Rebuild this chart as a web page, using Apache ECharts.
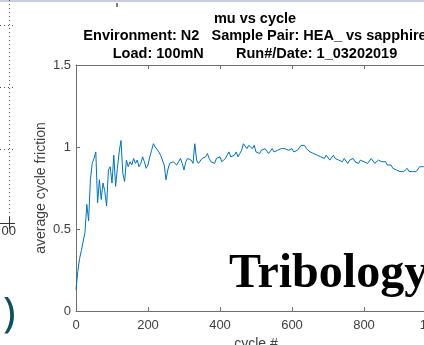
<!DOCTYPE html>
<html>
<head>
<meta charset="utf-8">
<script src="https://cdn.jsdelivr.net/npm/echarts@6/dist/echarts.min.js"></script>
<style>
  html, body { margin: 0; padding: 0; background: #fff; }
  #chart { width: 424px; height: 345px; }
</style>
</head>
<body>
<div id="chart"></div>
<script>
// friction values, one every 5 cycles
const cycleStep = 5;
const friction = [
  0.13, 0.24, 0.32, 0.37, 0.38, 0.48, 0.65, 0.55, 0.80, 0.90,
  0.93, 0.97, 0.66, 0.80, 0.68, 0.78, 0.73, 0.64, 0.86, 0.88,
  0.78, 0.95, 0.76, 0.87, 0.97, 1.04, 0.84, 0.79, 0.92, 0.88,
  0.91, 0.89, 0.93, 0.90, 0.92, 0.88, 0.90, 0.94, 0.91, 0.87,
  0.89, 0.94, 0.98, 1.02, 1.00, 0.99, 0.97, 0.95, 0.92, 0.89,
  0.80, 0.86, 0.90, 0.89, 0.91, 0.90, 0.89, 0.91, 0.93, 0.90,
  0.86, 0.91, 0.93, 0.94, 0.92, 0.90, 1.02, 0.92, 0.90, 0.91,
  0.93, 0.92, 0.94, 0.96, 0.93, 0.91, 0.92, 0.90, 0.93, 0.92,
  0.94, 0.91, 0.92, 0.93, 0.95, 0.97, 0.94, 0.93, 0.95, 0.97,
  0.94, 0.96, 0.98, 1.02, 1.01, 0.99, 1.01, 1.00, 0.99, 1.01,
  0.97, 0.98, 0.96, 0.98, 0.97, 0.99, 0.98, 0.96, 0.97, 0.99,
  0.97, 0.96, 0.98, 0.97, 0.99, 0.98, 0.99, 1.00, 0.98, 0.97,
  0.99, 0.97, 0.96, 0.98, 0.99, 1.01, 1.00, 1.01, 0.99, 0.98,
  0.97, 0.98, 0.96, 0.97, 0.95, 0.96, 0.94, 0.95, 0.93, 0.95,
  0.94, 0.92, 0.93, 0.95, 0.93, 0.94, 0.92, 0.93, 0.91, 0.93,
  0.92, 0.90, 0.92, 0.91, 0.93, 0.91, 0.92, 0.90, 0.92, 0.93,
  0.91, 0.92, 0.90, 0.91, 0.93, 0.92, 0.90, 0.91, 0.92, 0.93,
  0.91, 0.90, 0.91, 0.89, 0.88, 0.89, 0.87, 0.88, 0.86, 0.87,
  0.85, 0.86, 0.85, 0.86, 0.87, 0.85, 0.86, 0.85, 0.86, 0.85,
  0.86, 0.88, 0.87, 0.88, 0.87, 0.88, 0.89, 0.88, 0.87, 0.88,
  0.88
];
const xTicks = [0, 1000, 200];   // min, max, interval
const yTicks = [0, 1.5, 0.5];

const titleLines = [
  'mu vs cycle',
  'Environment: N2   Sample Pair: HEA_ vs sapphire',
  'Load: 100mN        Run#/Date: 1_03202019'
];

const points = friction.map((v, i) => [i * cycleStep, v]);

const axisGray = '#6f6f6f';
const labelGray = '#404040';
const font = 'Liberation Sans, Arial, sans-serif';

const chart = echarts.init(document.getElementById('chart'));

chart.setOption({
  animation: false,
  backgroundColor: '#fff',
  title: {
    text: titleLines.join('\n'),
    left: 250,
    top: 5,
    textAlign: 'center',
    textStyle: {
      fontFamily: font,
      fontSize: 14.5,
      fontWeight: 'bold',
      color: '#000',
      lineHeight: 17.5
    }
  },
  grid: { left: 76, top: 65, width: 360, height: 246, outerBoundsMode: 'none', containLabel: false },
  xAxis: [{
    type: 'value',
    min: xTicks[0], max: xTicks[1], interval: xTicks[2],
    name: 'cycle #',
    nameLocation: 'middle',
    nameGap: 26,
    nameTextStyle: { fontFamily: font, fontSize: 14, color: labelGray },
    axisLine: { lineStyle: { color: axisGray, width: 1 } },
    axisTick: { inside: true, length: 4, lineStyle: { color: axisGray } },
    axisLabel: { fontFamily: font, fontSize: 13, color: labelGray, margin: 8, showMaxLabel: true },
    splitLine: { show: false }
  }, {
    type: 'value',
    position: 'top',
    min: xTicks[0], max: xTicks[1], interval: xTicks[2],
    axisLine: { show: true, lineStyle: { color: axisGray, width: 1 } },
    axisTick: { inside: true, length: 4, lineStyle: { color: axisGray } },
    axisLabel: { show: false },
    splitLine: { show: false }
  }],
  yAxis: {
    type: 'value',
    min: yTicks[0], max: yTicks[1], interval: yTicks[2],
    name: 'average cycle friction',
    nameLocation: 'middle',
    nameGap: 28,
    nameMoveOverlap: false,
    nameTextStyle: { fontFamily: font, fontSize: 14, color: labelGray },
    axisLine: { show: true, lineStyle: { color: axisGray, width: 1 } },
    axisTick: { show: true, inside: true, length: 4, lineStyle: { color: axisGray } },
    axisLabel: { fontFamily: font, fontSize: 13, color: labelGray, margin: 5 },
    splitLine: { show: false }
  },
  series: [{
    type: 'line',
    data: points,
    showSymbol: false,
    lineStyle: { color: '#0072BD', width: 1 },
    itemStyle: { color: '#0072BD' }
  }],
  graphic: [
    // strip at the top of the screenshot
    { type: 'rect', shape: { x: 0, y: 0, width: 424, height: 2 }, style: { fill: '#c9cde0' } },
    { type: 'line', shape: { x1: 117, y1: 3, x2: 117, y2: 7 }, style: { stroke: '#000', lineWidth: 1 } },
    // bits of the neighbouring figure on the left
    { type: 'line', shape: { x1: 9.5, y1: 0, x2: 9.5, y2: 223 }, style: { stroke: '#555', lineWidth: 1, lineDash: [1, 3] } },
    { type: 'line', shape: { x1: 0, y1: 25.5, x2: 16, y2: 25.5 }, style: { stroke: '#555', lineWidth: 1, lineDash: [1, 3] } },
    { type: 'line', shape: { x1: 0, y1: 87.5, x2: 16, y2: 87.5 }, style: { stroke: '#555', lineWidth: 1, lineDash: [1, 3] } },
    { type: 'line', shape: { x1: 0, y1: 149.5, x2: 16, y2: 149.5 }, style: { stroke: '#555', lineWidth: 1, lineDash: [1, 3] } },
    { type: 'line', shape: { x1: 0, y1: 223.5, x2: 15, y2: 223.5 }, style: { stroke: '#333', lineWidth: 1 } },
    { type: 'line', shape: { x1: 9.5, y1: 217, x2: 9.5, y2: 229 }, style: { stroke: '#333', lineWidth: 1 } },
    { type: 'text', x: 16, y: 225, style: { text: '00', fontFamily: font, fontSize: 13, fill: '#333', textAlign: 'right', textVerticalAlign: 'top' } },
    { type: 'text', x: 3, y: 294, style: { text: ')', fontFamily: 'Noto Sans, sans-serif', fontSize: 42, fill: '#0d4f5e', textVerticalAlign: 'top' } },
    // overlay word
    { type: 'text', x: 229, y: 251, z: 100, style: { text: 'Tribology', fontFamily: 'Liberation Serif, serif', fontWeight: 'bold', fontSize: 48, fill: '#000', textVerticalAlign: 'top' } }
  ]
});
</script>
</body>
</html>
